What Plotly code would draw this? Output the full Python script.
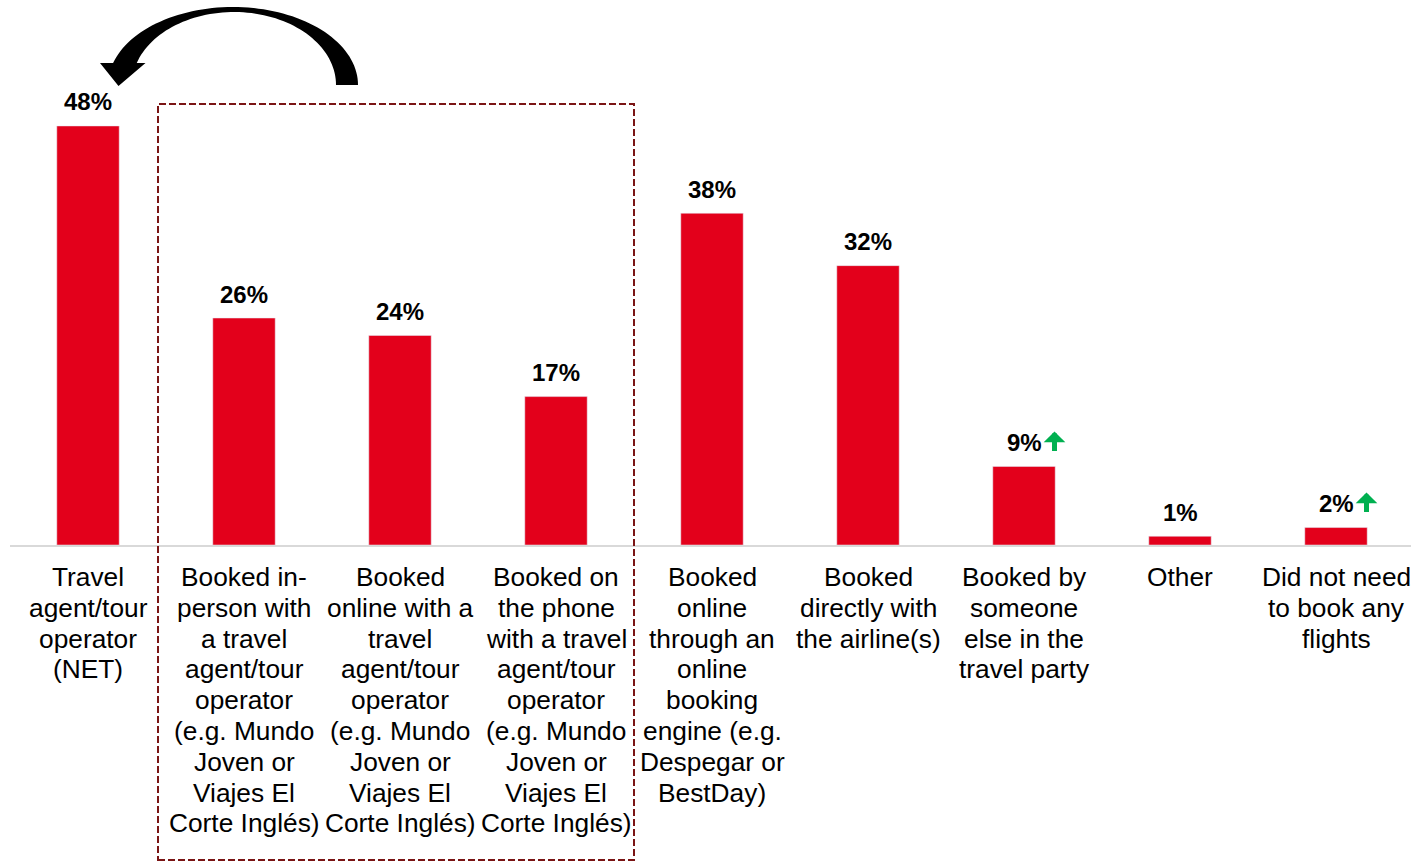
import numpy as np
import plotly.graph_objects as go

# ---- data ----
category_lines = [
    ["Travel", "agent/tour", "operator", "(NET)"],
    ["Booked in-", "person with", "a travel", "agent/tour", "operator", "(e.g. Mundo", "Joven or", "Viajes El", "Corte Inglés)"],
    ["Booked", "online with a", "travel", "agent/tour", "operator", "(e.g. Mundo", "Joven or", "Viajes El", "Corte Inglés)"],
    ["Booked on", "the phone", "with a travel", "agent/tour", "operator", "(e.g. Mundo", "Joven or", "Viajes El", "Corte Inglés)"],
    ["Booked", "online", "through an", "online", "booking", "engine (e.g.", "Despegar or", "BestDay)"],
    ["Booked", "directly with", "the airline(s)"],
    ["Booked by", "someone", "else in the", "travel party"],
    ["Other"],
    ["Did not need", "to book any", "flights"],
]
values = [48, 26, 24, 17, 38, 32, 9, 1, 2]
value_labels = ["48%", "26%", "24%", "17%", "38%", "32%", "9%", "1%", "2%"]
significant_increase = [False, False, False, False, False, False, True, False, True]

# ---- layout constants ----
W, H = 1411, 862
ML, MR, MT = 10, 0, 0
BASE = 545                  # baseline in figure pixels
PW, PH = W - ML - MR, BASE - MT
MB = H - BASE
STEP = 156.0                # pixels per category
YMAX = PH / 8.73
BAR = "#E3001B"
FONT = "Liberation Sans, Arial, sans-serif"

x = list(range(len(values)))

fig = go.Figure(go.Bar(x=x, y=values, marker_color=BAR, width=0.4,
                       hoverinfo="skip"))

annotations = []
for i, v in enumerate(values):
    annotations.append(dict(x=i, y=v, xref="x", yref="y", text="<b>%s</b>" % value_labels[i],
                            showarrow=False, yanchor="middle", yshift=24,
                            font=dict(family=FONT, size=24, color="#000000")))
    if significant_increase[i]:
        annotations.append(dict(x=i, y=v, xref="x", yref="y", text="", showarrow=True,
                                axref="pixel", ayref="pixel", ax=0, ay=21,
                                xshift=30.5, yshift=35, arrowhead=1, arrowsize=0.72,
                                arrowwidth=5, arrowcolor="#00B050", standoff=0))
    for k, line in enumerate(category_lines[i]):
        annotations.append(dict(x=i, y=0, xref="x", yref="y", text=line, showarrow=False,
                                yanchor="middle", yshift=-(32 + k * 30.8),
                                font=dict(family=FONT, size=26.3, color="#000000")))


def px2paper(px, py):
    return (px - ML) / PW, (MT + PH - py) / PH


# curved black arrow (decoration)
oc_x, oc_y, ro_x, ro_y = 233.0, 85.0, 125.0, 78.0
ic_x, ic_y, ri_x, ri_y = 234.0, 85.0, 102.0, 73.0
th_o0 = np.arcsin(22 / ro_y)
th_i0 = np.arcsin(22 / ri_y)
outer = [(oc_x - ro_x * np.cos(t), oc_y - ro_y * np.sin(t)) for t in np.linspace(th_o0, np.pi, 70)]
inner = [(ic_x - ri_x * np.cos(t), ic_y - ri_y * np.sin(t)) for t in np.linspace(np.pi, th_i0, 70)]
head = [(145.5, 63.0), (118.5, 86.0), (100.0, 63.0)]
pts = outer + inner + head
path = "M " + " L ".join("%.5f,%.5f" % px2paper(px, py) for px, py in pts) + " Z"

x0, y0 = px2paper(158, 104)
x1, y1 = px2paper(634, 860)
shapes = [
    dict(type="path", xref="paper", yref="paper", path=path,
         fillcolor="#000000", line=dict(width=0)),
    dict(type="rect", xref="paper", yref="paper", x0=x0, y0=y1, x1=x1, y1=y0,
         line=dict(color="#7A1414", width=2, dash="7px,3px"), fillcolor="rgba(0,0,0,0)"),
]

fig.update_layout(
    width=W, height=H,
    margin=dict(l=ML, r=MR, t=MT, b=MB, pad=0),
    paper_bgcolor="white", plot_bgcolor="white",
    showlegend=False,
    bargap=0.6,
    annotations=annotations,
    shapes=shapes,
    xaxis=dict(range=[-0.5, -0.5 + PW / STEP], showticklabels=False, ticks="",
               showgrid=False, zeroline=False, showline=True, linecolor="#D9D9D9",
               linewidth=2, fixedrange=True),
    yaxis=dict(range=[0, YMAX], visible=False, showgrid=False, zeroline=False,
               fixedrange=True),
)

fig.write_html(
    "out.html",
    config={"displayModeBar": False},
    post_script="document.body.style.margin='0';document.documentElement.style.overflow='hidden';",
)
